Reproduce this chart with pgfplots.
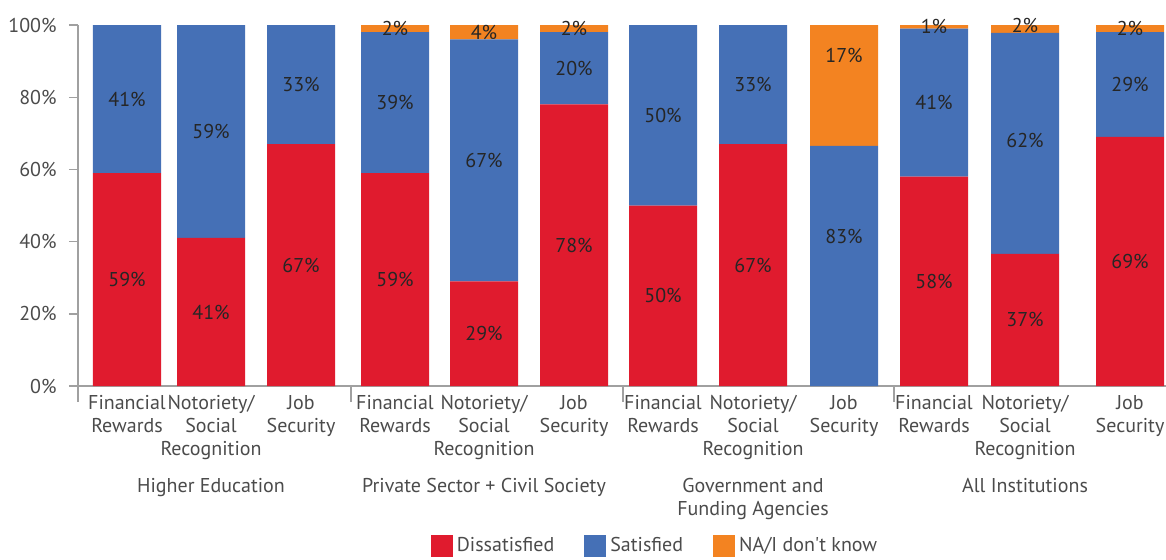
\documentclass[border=0pt]{standalone}
\usepackage{pgfplots}
\pgfplotsset{compat=1.18}
\usepackage{pgfplotstable}
\usepackage{fontspec}
\setmainfont{PT Sans}
\definecolor{cred}{RGB}{224,27,46}
\definecolor{cblue}{RGB}{69,112,182}
\definecolor{corange}{RGB}{243,131,33}
\definecolor{axgray}{RGB}{160,160,160}
\definecolor{txtgray}{RGB}{75,75,75}
\definecolor{lblcol}{RGB}{38,38,38}

% drawn heights (d,s,n) and printed label values (dl,sl,nl)
\pgfplotstableread{
x d s n dl sl nl
127 59 41 0 59 41 0
211 41 59 0 41 59 0
301 67 33 0 67 33 0
395 59 39 2 59 39 2
484 29 67 4 29 67 4
574 78 20 2 78 20 2
663 50 50 0 50 50 0
753 67 33 0 67 33 0
844 0 66.5 33.5 0 83 17
934 58 41 1 58 41 1
1025 36.6 61.2 2.2 37 62 2
1130 69 29 2 69 29 2
}\data

\pgfplotsset{base/.style={scale only axis, width=544pt, height=180.5pt,
  xmin=78, xmax=1166, ymin=0, ymax=100, clip=false}}
\newcommand{\fs}{\fontsize{10}{11.5}\selectfont}

\begin{document}
\begin{tikzpicture}
\begin{axis}[base, ybar stacked, bar width=68,
  axis x line*=bottom, axis y line*=left,
  axis line style={axgray, line width=0.7pt},
  ytick={0,20,...,100},
  yticklabel={\pgfmathprintnumber[assume math mode=true]{\tick}\%},
  tick align=outside, major tick length=4.5pt,
  y tick style={axgray, line width=0.7pt},
  yticklabel style={font=\fs, text=txtgray, inner sep=0pt, xshift=-6pt},
  xtick={127,211,301,395,484,574,663,753,844,934,1025,1130},
  xticklabels={{Financial\\Rewards},{Notoriety/\\Social\\Recognition},{Job\\Security},
    {Financial\\Rewards},{Notoriety/\\Social\\Recognition},{Job\\Security},
    {Financial\\Rewards},{Notoriety/\\Social\\Recognition},{Job\\Security},
    {Financial\\Rewards},{Notoriety/\\Social\\Recognition},{Job\\Security}},
  x tick style={draw=none},
  xticklabel style={align=center, font=\fs, text=txtgray, inner sep=0pt},
  extra x ticks={78,351,623,894},
  extra x tick labels={},
  extra x tick style={x tick style={draw=axgray, line width=0.7pt}, major tick length=8pt},
  legend columns=3,
  legend style={draw=none, fill=none, at={(axis cs:656,0)}, anchor=center,
    yshift=-80pt, font=\fs, text=txtgray,
    /tikz/every even column/.append style={column sep=13pt}},
  legend image code/.code={\path[#1, draw=none] (0pt,-5.5pt) rectangle (11pt,5.5pt);},
]
\addplot[fill=cred, draw=none] table[x=x, y=d] {\data};
\addplot[fill=cblue, draw=none] table[x=x, y=s] {\data};
\addplot[fill=corange, draw=none] table[x=x, y=n] {\data};
\legend{Dissatisfied, Satisfied, NA/I don\textquotesingle t know}
\node[anchor=north, align=center, font=\fs, text=txtgray, inner sep=0pt, yshift=-46pt] at (axis cs:211,0) {Higher Education};
\node[anchor=north, align=center, font=\fs, text=txtgray, inner sep=0pt, yshift=-46pt] at (axis cs:484,0) {Private Sector + Civil Society};
\node[anchor=north, align=center, font=\fs, text=txtgray, inner sep=0pt, yshift=-46pt] at (axis cs:753,0) {Government and\\Funding Agencies};
\node[anchor=north, align=center, font=\fs, text=txtgray, inner sep=0pt, yshift=-46pt] at (axis cs:1025,0) {All Institutions};
\end{axis}
\begin{axis}[base, hide axis,
  nodes near coords={\pgfmathprintnumber[assume math mode=true]{\pgfplotspointmeta}\%},
  nodes near coords align=center,
  every node near coord/.append style={anchor=center, font=\fs, text=lblcol, inner sep=0pt},
  restrict y to domain=-1:101]
\addplot[draw=none, point meta=explicit] table[x=x, y expr={\thisrow{dl}/2+(\thisrow{dl}==0)*1000}, meta=dl] {\data};
\addplot[draw=none, point meta=explicit] table[x=x, y expr={\thisrow{dl}+\thisrow{sl}/2+(\thisrow{sl}==0)*1000}, meta=sl] {\data};
\addplot[draw=none, point meta=explicit] table[x=x, y expr={\thisrow{dl}+\thisrow{sl}+\thisrow{nl}/2+(\thisrow{nl}==0)*1000}, meta=nl] {\data};
\end{axis}
\pgfresetboundingbox
\useasboundingbox (-39pt,-86.5pt) rectangle (544pt,193pt);
\end{tikzpicture}
\end{document}
